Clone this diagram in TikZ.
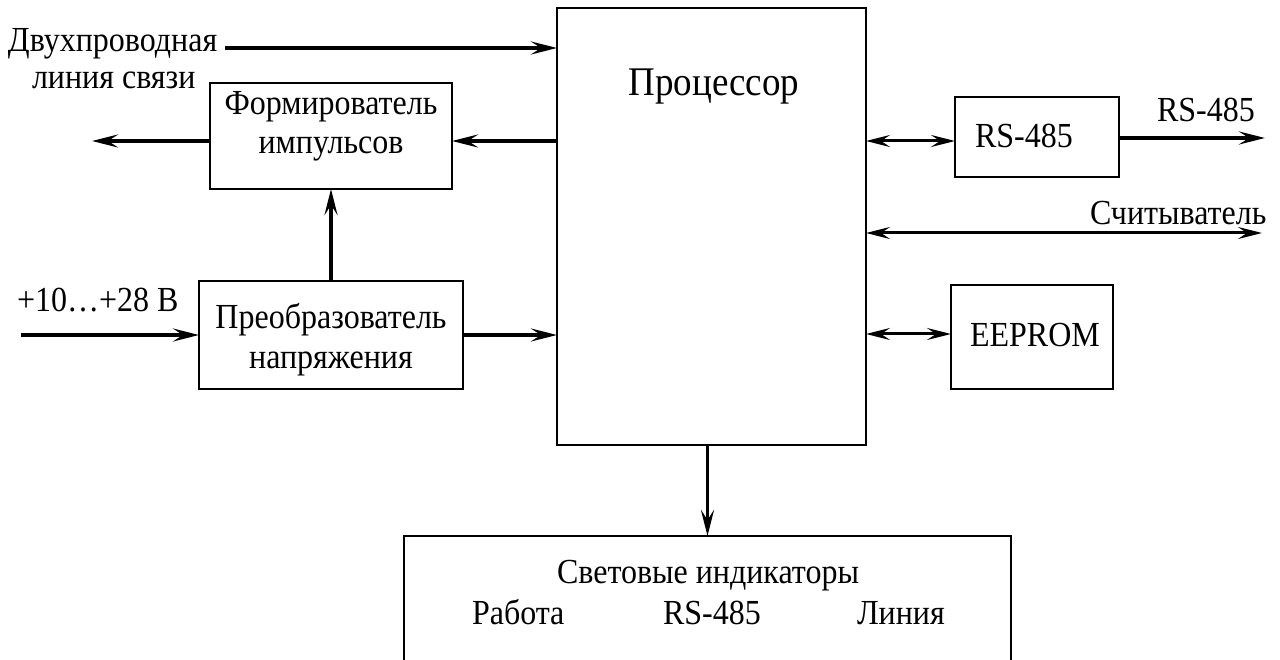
\documentclass[tikz,border=0pt]{standalone}
\usepackage{fontspec}
\setmainfont{Liberation Serif}
\usetikzlibrary{arrows.meta}
\newcommand{\vstretch}[1]{\scalebox{1}[1.1]{#1}}
\begin{document}
\begin{tikzpicture}[x=1pt,y=-1pt,
  box/.style={draw,line width=1.6pt,rectangle,inner sep=0pt,outer sep=0pt},
  txt/.style={inner sep=0pt,outer sep=0pt,font=\fontsize{32}{38}\selectfont},
  bigtxt/.style={inner sep=0pt,outer sep=0pt,font=\fontsize{37}{44}\selectfont},
  thickarrow/.style={line width=3.8pt,-{Stealth[length=26pt,width=13pt,inset=10pt]}},
  dblarrow/.style={line width=3pt,{Stealth[length=24pt,width=12pt,inset=9pt]}-{Stealth[length=24pt,width=12pt,inset=9pt]}},
  ]
\useasboundingbox (0,0) rectangle (1280,660);
\clip (0,0) rectangle (1280,660);

% boxes
\node[box,minimum width=309pt,minimum height=437pt] (proc) at (711.5,226.5) {};
\node[box,minimum width=242pt,minimum height=106pt] (form) at (331,136) {};
\node[box,minimum width=264pt,minimum height=108pt] (conv) at (331,335) {};
\node[box,minimum width=164pt,minimum height=80pt] (rs) at (1037,137) {};
\node[box,minimum width=162pt,minimum height=104pt] (eeprom) at (1032,337) {};
\node[box,minimum width=607pt,minimum height=164pt] (ind) at (707.5,618) {};

% texts
\node[txt,anchor=base west] (t1) at (8,52) {\vstretch{Двухпроводная}};
\node[txt,anchor=base west] (t2) at (32,89) {\vstretch{линия связи}};
\node[txt,anchor=base] (t3) at (331,115) {\vstretch{Формирователь}};
\node[txt,anchor=base] (t4) at (331,154) {\vstretch{импульсов}};
\node[bigtxt,anchor=base] (t5) at (714,96) {\vstretch{Процессор}};
\node[txt,anchor=base west] (t6) at (17,312) {\vstretch{+10…+28 В}};
\node[txt,anchor=base] (t7) at (331,329) {\vstretch{Преобразователь}};
\node[txt,anchor=base] (t8) at (331,368) {\vstretch{напряжения}};
\node[txt,anchor=base west] (t9) at (975,148) {\vstretch{RS-485}};
\node[txt,anchor=base west] (t10) at (1157,122) {\vstretch{RS-485}};
\node[txt,anchor=base west] (t11) at (1090,225) {\vstretch{Считыватель}};
\node[txt,anchor=base west] (t12) at (970,347) {\vstretch{EEPROM}};
\node[txt,anchor=base] (t13) at (708,583) {\vstretch{Световые индикаторы}};
\node[txt,anchor=base west] (t14) at (472,624) {\vstretch{Работа}};
\node[txt,anchor=base west] (t15) at (663,624) {\vstretch{RS-485}};
\node[txt,anchor=base west] (t16) at (857,624) {\vstretch{Линия}};

% free ends
\coordinate (in1) at (225,48);
\coordinate (out1) at (92,141);
\coordinate (in2) at (21,335);
\coordinate (out2) at (1265,138);
\coordinate (rd) at (1262,233);

% connectors
\draw[thickarrow] (in1) -- (proc.west |- in1);
\draw[thickarrow] (proc.west |- out1) -- (form.east |- out1);
\draw[thickarrow] (form.west |- out1) -- (out1);
\draw[thickarrow] (conv.north) -- (form.south);
\draw[thickarrow] (in2) -- (conv.west |- in2);
\draw[thickarrow] (conv.east |- in2) -- (proc.west |- in2);
\draw[dblarrow] (proc.east |- 0,141) -- (rs.west |- 0,141);
\draw[thickarrow] (rs.east |- out2) -- (out2);
\draw[dblarrow] (proc.east |- rd) -- (rd);
\draw[dblarrow] (proc.east |- 0,334) -- (eeprom.west |- 0,334);
\draw[thickarrow] (proc.south -| ind.north) -- (ind.north);
\end{tikzpicture}
\end{document}
